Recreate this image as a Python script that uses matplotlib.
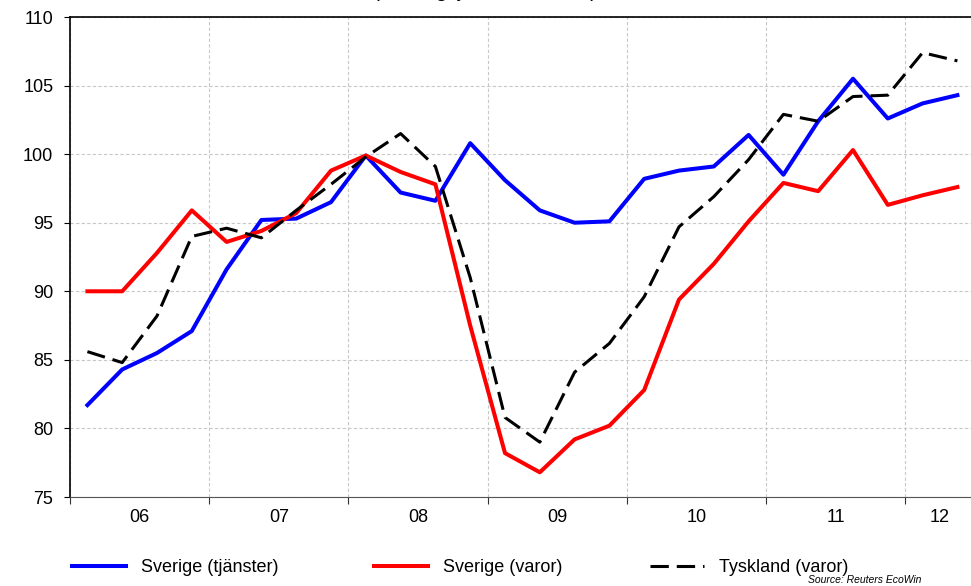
import matplotlib.pyplot as plt
import numpy as np
import pandas as pd

plt.rcParams['font.family'] = ['Liberation Sans', 'DejaVu Sans']

# Quarterly index, 2006Q1 - 2012Q2
quarters = pd.period_range('2006Q1', '2012Q2', freq='Q')
sverige_tjanster = [81.7, 84.3, 85.5, 87.1, 91.6, 95.2, 95.3, 96.5, 99.9, 97.2, 96.6, 100.8, 98.1,
                    95.9, 95.0, 95.1, 98.2, 98.8, 99.1, 101.4, 98.5, 102.4, 105.5, 102.6, 103.7, 104.3]
sverige_varor = [90.0, 90.0, 92.8, 95.9, 93.6, 94.4, 95.7, 98.8, 99.9, 98.7, 97.8, 87.5, 78.2,
                 76.8, 79.2, 80.2, 82.8, 89.4, 92.0, 95.1, 97.9, 97.3, 100.3, 96.3, 97.0, 97.6]
tyskland_varor = [85.6, 84.8, 88.2, 94.0, 94.6, 93.9, 95.9, 97.8, 99.8, 101.5, 99.1, 91.0, 80.8,
                  79.0, 84.1, 86.2, 89.6, 94.7, 96.9, 99.6, 102.9, 102.4, 104.2, 104.3, 107.4, 106.8]
year_labels = ['06', '07', '08', '09', '10', '11', '12']

x = quarters.year + (quarters.quarter - 0.5) / 4
xmin, xmax = 2006, 2012.5

fig = plt.figure(figsize=(9.71, 5.86), dpi=100)
ax = fig.add_axes([70 / 971, 89 / 586, 904.8 / 971, 480 / 586])

l1, = ax.plot(x, sverige_tjanster, color='#0000ff', lw=2.9, label='Sverige (tjänster)', zorder=3)
l2, = ax.plot(x, sverige_varor, color='#ff0000', lw=2.9, label='Sverige (varor)', zorder=3)
l3, = ax.plot(x, tyskland_varor, color='black', lw=2.2, dashes=(6, 2.6), label='Tyskland (varor)', zorder=4)

ax.set_xlim(xmin, xmax)
ax.set_ylim(75, 110)
ax.set_yticks(np.arange(75, 111, 5))
years = np.arange(2006, 2013)
ax.set_xticks(years)
ax.set_xticklabels([])
centers = [(y + min(y + 1, xmax)) / 2 for y in years]
ax.set_xticks(centers, minor=True)
ax.set_xticklabels(year_labels, minor=True)
ax.tick_params(axis='x', which='minor', length=0, pad=9, labelsize=13)
ax.tick_params(axis='x', which='major', length=5, direction='out', color='#333333')
ax.tick_params(axis='y', length=4, direction='out', pad=8, labelsize=13)

ax.grid(True, which='major', linestyle=(0, (3, 2)), color='#c8c8c8', linewidth=0.8)
ax.set_axisbelow(True)
ax.spines['right'].set_visible(False)
ax.spines['bottom'].set_color('#555555')
for s in ['left', 'top']:
    ax.spines[s].set_linewidth(1.2)

# partially visible title at top edge
fig.text(0.5, 1.005, '(säsongsjusterade data)', ha='center', va='baseline', fontsize=15)

# one legend per entry so each handle sits where the original has it
for h, x0 in zip([l1, l2, l3], [72, 374, 650]):
    fig.legend(handles=[h], loc='center left', bbox_to_anchor=(x0 / 971, 18 / 586), frameon=False,
               fontsize=13, handlelength=3.0, handletextpad=0.8, borderpad=0, borderaxespad=0)
fig.text(808 / 971, 1 / 586, 'Source: Reuters EcoWin', fontsize=7.5, style='italic',
         ha='left', va='bottom')

fig.savefig('out.png', dpi=100)
